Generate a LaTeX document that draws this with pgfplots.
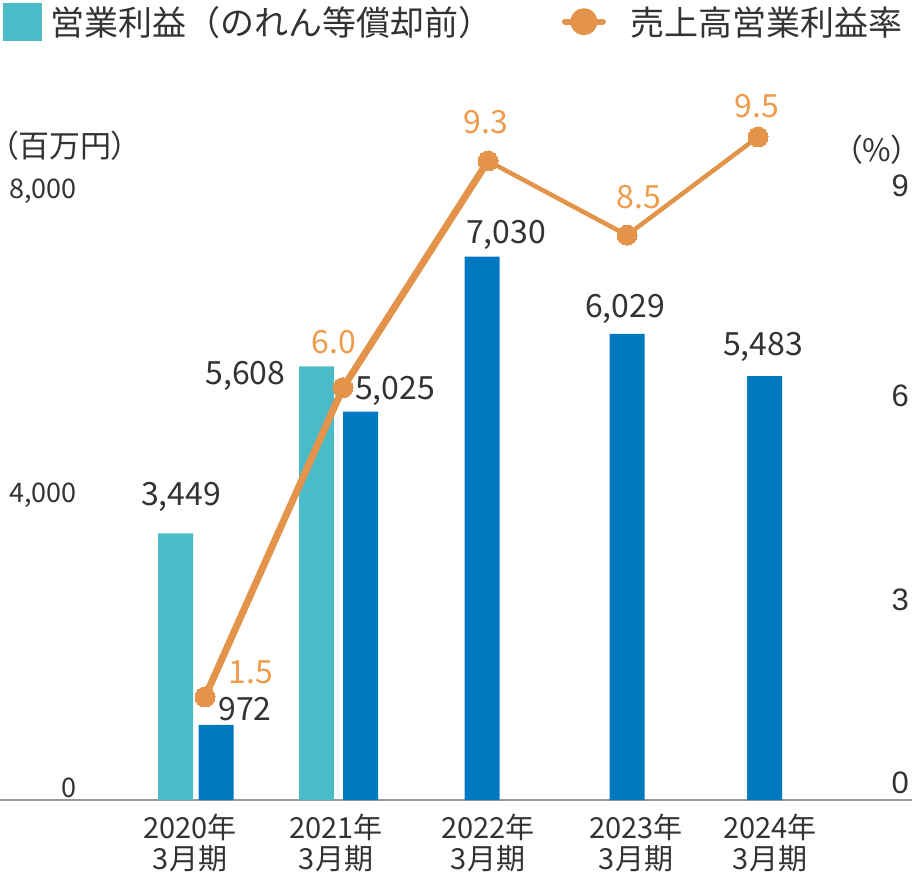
\documentclass[border=0pt]{standalone}
\usepackage{fontspec}
\usepackage{pgfplots}
\pgfplotsset{compat=1.18}
\setmainfont{Noto Sans CJK JP}
\newfontfamily\arialf{Liberation Sans}
\newfontfamily\paltf[RawFeature=+palt]{Noto Sans CJK JP}
\definecolor{teal1}{HTML}{4BBCC7}
\definecolor{blue1}{HTML}{0079C1}
\definecolor{orl}{HTML}{E3944A}
\definecolor{ort}{HTML}{EF9B4C}
\definecolor{txtc}{HTML}{333333}
\definecolor{basec}{HTML}{9A9A9A}
\newcommand{\fs}[2]{\fontsize{#1bp}{#2bp}\selectfont}
\tikzset{vlab/.style={font=\fs{32}{32}, text=txtc, inner sep=0pt, anchor=center},
         olab/.style={font=\fs{32}{32}, text=ort, inner sep=0pt, anchor=center}}
\begin{document}
\begin{tikzpicture}
\begin{axis}[
  at={(0,0)}, anchor=south west, scale only axis,
  width=912bp, height=695.7bp,
  xmin=0, xmax=912, ymin=0, ymax=9000,
  axis x line*=bottom, axis y line*=left,
  x axis line style={draw=basec, line width=2.5bp},
  y axis line style={draw=none},
  major tick length=0pt,
  xtick={190,336,488,636,770},
  xticklabels={{2020年\\3月期},{2021年\\3月期},{2022年\\3月期},{2023年\\3月期},{2024年\\3月期}},
  xticklabel style={align=center, font=\fs{29}{31}, text=txtc, inner sep=0pt, anchor=north, yshift=-14bp},
  ytick={155,3946,7878},
  yticklabels={0,{4,000},{8,000}},
  yticklabel style={font=\fs{27}{30}, text=txtc, inner sep=0pt, anchor=east, xshift=77bp},
  clip=false,
]
\addplot[ybar, bar width=35bp, bar shift=0pt, fill=teal1, draw=none] coordinates {(175.5,3449) (316.5,5608)};
\addplot[ybar, bar width=35bp, bar shift=0pt, fill=blue1, draw=none] coordinates {(216,972) (360.5,5025) (482,7030) (627,6029) (764.5,5483)};
\node[vlab] at (axis cs:181,3449) [yshift=36bp] {3,449};
\node[vlab] at (axis cs:245,972) [yshift=16bp] {972};
\node[vlab] at (axis cs:245.5,5608) [yshift=-9.5bp] {5,608};
\node[vlab] at (axis cs:395,5025) [yshift=20.6bp] {5,025};
\node[vlab] at (axis cs:506,7030) [yshift=21.6bp] {7,030};
\node[vlab] at (axis cs:625,6029) [yshift=25bp] {6,029};
\node[vlab] at (axis cs:763,5483) [yshift=29bp] {5,483};
\end{axis}
\begin{axis}[
  at={(0,0)}, anchor=south west, scale only axis,
  width=912bp, height=695.7bp,
  xmin=0, xmax=912, ymin=0, ymax=10.125,
  axis x line=none, axis y line*=right,
  y axis line style={draw=none},
  major tick length=0pt,
  ytick={0.25,2.91,5.88,8.94}, yticklabels={0,3,6,9},
  yticklabel style={font=\arialf\fs{31}{31}, text=txtc, inner sep=0pt, anchor=east, xshift=-3bp},
  clip=false,
  legend columns=2,
  legend style={at={(0.0033,1.1456)}, anchor=north west, draw=none, fill=none,
    inner sep=0pt, outer sep=0pt, font=\fs{34}{34}, text=txtc,
    nodes={inner sep=0pt, text=txtc},
    /tikz/every odd column/.append style={column sep=9bp},
    /tikz/every even column/.append style={column sep=66bp}},
]
\addlegendimage{legend image code/.code={\fill[teal1] (0bp,-18.5bp) rectangle (38bp,18.5bp);}}
\addlegendentry{営業利益（のれん等償却前）}
\addplot[color=orl, line width=7bp, line join=round, line cap=round, mark=none,
  legend image code/.code={\draw[orl, line width=6bp, line cap=round] (3bp,0) -- (41bp,0); \fill[orl] (22bp,0) circle (10bp); \path (0bp,0) (56bp,0);}]
  coordinates {(205,1.5) (343,6.0) (488,9.3)};
\addlegendentry{売上高営業利益率}
\addplot[color=orl, line width=4.5bp, line join=round, mark=none, forget plot]
  coordinates {(488,9.3) (627,8.22) (758,9.65)};
\addplot[color=orl, only marks, mark=*, mark size=10bp, mark options={fill=orl, draw=orl, line width=0pt}, forget plot]
  coordinates {(205,1.5) (343,6.0) (488,9.3) (627,8.22) (758,9.65)};
\node[olab] at (axis cs:251,1.5) [yshift=25bp] {1.5};
\node[olab] at (axis cs:334,6.0) [yshift=46bp] {6.0};
\node[olab] at (axis cs:486,9.3) [yshift=39bp] {9.3};
\node[olab] at (axis cs:639,8.22) [yshift=38bp] {8.5};
\node[olab] at (axis cs:757,9.65) [yshift=31bp] {9.5};
\end{axis}
\node[font=\paltf\fs{31}{31}, text=txtc, inner sep=0pt, anchor=west] at (3bp,654bp) {（百万円）};
\node[font=\paltf\fs{31}{31}, text=txtc, inner sep=0pt, anchor=east] at (907bp,650bp) {（\%）};
\pgfresetboundingbox
\path[use as bounding box] (0bp,-82bp) rectangle (912bp,800bp);
\end{tikzpicture}
\end{document}
